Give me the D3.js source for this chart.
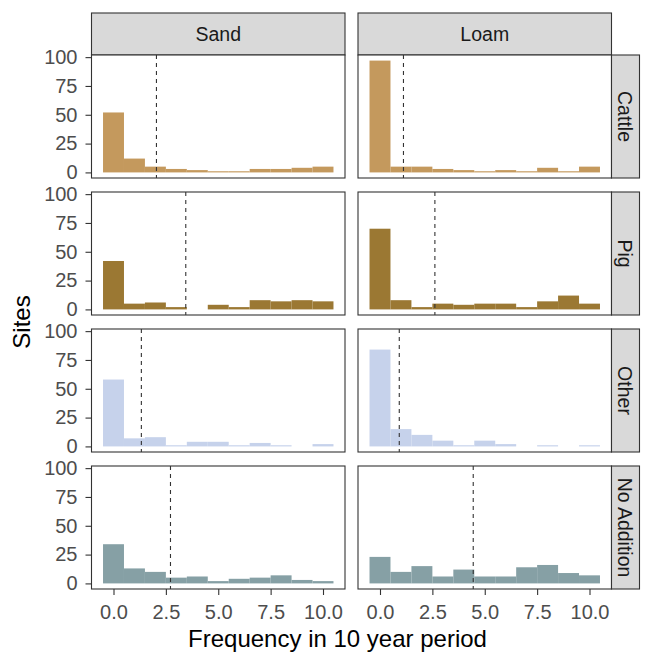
<!DOCTYPE html>
<html>
<head>
<meta charset="utf-8">
<script src="https://cdn.jsdelivr.net/npm/d3@7"></script>
<style>
  body { margin: 0; background: #fff; }
  svg text { font-family: "Liberation Sans", Arial, sans-serif; }
</style>
</head>
<body>
<script>
// facets
var soils = ["Sand", "Loam"];
var treatments = ["Cattle", "Pig", "Other", "No Addition"];

// histogram bins (width 1, centred on whole numbers)
var binCentres = [0, 1, 2, 3, 4, 5, 6, 7, 8, 9, 10];

// counts per bin
var sandCattle = [52, 12, 5, 3, 2, 1, 1, 3, 3, 4, 5];
var loamCattle = [97, 5, 5, 3, 2, 1, 2, 1, 4, 1, 5];
var sandPig    = [42, 5, 6, 2, 0, 4, 2, 8, 7, 8, 7];
var loamPig    = [70, 8, 2, 5, 4, 5, 5, 2, 7, 12, 5];
var sandOther  = [58, 7, 8, 1, 4, 4, 1, 3, 1, 0, 2];
var loamOther  = [84, 15, 10, 5, 1, 5, 2, 0, 1, 0, 1];
var sandNone   = [34, 13, 10, 5, 6, 2, 4, 5, 7, 3, 2];
var loamNone   = [23, 10, 15, 6, 12, 6, 6, 14, 16, 9, 7];

// mean frequency (dashed line) per facet
var sandMeans = [2.05, 3.45, 1.33, 2.72];
var loamMeans = [1.12, 2.62, 0.92, 4.45];

var xTicks = [0, 2.5, 5, 7.5, 10];
var yTicks = [0, 25, 50, 75, 100];

var fills = {
    "Cattle": "#c4995d",
    "Pig": "#9b7833",
    "Other": "#c6d2eb",
    "No Addition": "#86a0a5"
};

var counts = {
    "Sand": [sandCattle, sandPig, sandOther, sandNone],
    "Loam": [loamCattle, loamPig, loamOther, loamNone]
};
var means = { "Sand": sandMeans, "Loam": loamMeans };

// layout
var W = 646, H = 656,
    panelLeft = 91.5,
    panelW = 253.5,
    colGap = 13,
    stripTop = 13,
    stripH = 42,
    rowTop = 55,
    panelH = 123,
    rowGap = 14,
    sideStripW = 28,
    tickFont = 20;

var svg = d3.select("body").append("svg")
    .attr("width", W)
    .attr("height", H);

var maxCount = d3.max(d3.merge([].concat(counts.Sand, counts.Loam)));

// shared scales, ggplot-like 5% expansion
var xr = [-0.5, 10.5], xpad = (xr[1] - xr[0]) * 0.05;
var x = d3.scaleLinear()
    .domain([xr[0] - xpad, xr[1] + xpad])
    .range([0, panelW]);
var y = d3.scaleLinear()
    .domain([-maxCount * 0.05, maxCount * 1.05])
    .range([panelH, 0]);

// top strips
soils.forEach(function(s, ci) {
    var gx = panelLeft + ci * (panelW + colGap);
    var g = svg.append("g").attr("transform", "translate(" + gx + "," + stripTop + ")");
    g.append("rect")
        .attr("width", panelW).attr("height", stripH)
        .attr("fill", "#d9d9d9").attr("stroke", "#333").attr("stroke-width", 1.1);
    g.append("text")
        .attr("x", panelW / 2).attr("y", stripH / 2)
        .attr("dy", "0.36em")
        .attr("text-anchor", "middle")
        .attr("font-size", 19.5)
        .attr("fill", "#1a1a1a")
        .text(s);
});

treatments.forEach(function(t, ri) {
    var gy = rowTop + ri * (panelH + rowGap);

    soils.forEach(function(s, ci) {
        var gx = panelLeft + ci * (panelW + colGap);
        var g = svg.append("g").attr("transform", "translate(" + gx + "," + gy + ")");
        var vals = counts[s][ri];

        g.append("rect")
            .attr("width", panelW).attr("height", panelH)
            .attr("fill", "#fff");

        g.selectAll("rect.bar")
            .data(binCentres.map(function(b, i) { return { b: b, n: vals[i] }; })
                  .filter(function(d) { return d.n > 0; }))
            .enter().append("rect")
            .attr("class", "bar")
            .attr("x", function(d) { return x(d.b - 0.5); })
            .attr("width", function(d) { return x(d.b + 0.5) - x(d.b - 0.5); })
            .attr("y", function(d) { return y(d.n); })
            .attr("height", function(d) { return y(0) - y(d.n); })
            .attr("fill", fills[t]);

        // mean line
        g.append("line")
            .attr("x1", x(means[s][ri])).attr("x2", x(means[s][ri]))
            .attr("y1", 0).attr("y2", panelH)
            .attr("stroke", "#333").attr("stroke-width", 1.1)
            .attr("stroke-dasharray", "4,4");

        g.append("rect")
            .attr("width", panelW).attr("height", panelH)
            .attr("fill", "none").attr("stroke", "#333").attr("stroke-width", 1.1);

        if (ci === 0) {
            var ya = g.append("g")
                .call(d3.axisLeft(y).tickValues(yTicks).tickSize(6).tickPadding(8));
            ya.select(".domain").remove();
            ya.selectAll("line").attr("stroke", "#333").attr("stroke-width", 1.1);
            ya.selectAll("text").attr("font-size", tickFont).attr("fill", "#4d4d4d")
                .attr("font-family", "Liberation Sans, Arial, sans-serif");
        }
        if (ri === treatments.length - 1) {
            var xa = g.append("g")
                .attr("transform", "translate(0," + panelH + ")")
                .call(d3.axisBottom(x).tickValues(xTicks)
                      .tickFormat(d3.format(".1f")).tickSize(6).tickPadding(10));
            xa.select(".domain").remove();
            xa.selectAll("line").attr("stroke", "#333").attr("stroke-width", 1.1);
            xa.selectAll("text").attr("font-size", tickFont).attr("fill", "#4d4d4d")
                .attr("font-family", "Liberation Sans, Arial, sans-serif");
        }
    });

    // side strip
    var sx = panelLeft + 2 * panelW + colGap;
    var sg = svg.append("g").attr("transform", "translate(" + sx + "," + gy + ")");
    sg.append("rect")
        .attr("width", sideStripW).attr("height", panelH)
        .attr("fill", "#d9d9d9").attr("stroke", "#333").attr("stroke-width", 1.1);
    sg.append("text")
        .attr("transform", "translate(" + (sideStripW / 2) + "," + (panelH / 2) + ") rotate(90)")
        .attr("dy", "0.36em")
        .attr("text-anchor", "middle")
        .attr("font-size", 19.5)
        .attr("fill", "#1a1a1a")
        .text(t);
});

// axis titles
var plotBottom = rowTop + 4 * panelH + 3 * rowGap;
svg.append("text")
    .attr("x", 337.5)
    .attr("y", 647)
    .attr("text-anchor", "middle")
    .attr("font-size", 24)
    .attr("fill", "#000")
    .text("Frequency in 10 year period");

svg.append("text")
    .attr("transform", "translate(30," + ((rowTop + plotBottom) / 2) + ") rotate(-90)")
    .attr("text-anchor", "middle")
    .attr("font-size", 24)
    .attr("fill", "#000")
    .text("Sites");
</script>
</body>
</html>
